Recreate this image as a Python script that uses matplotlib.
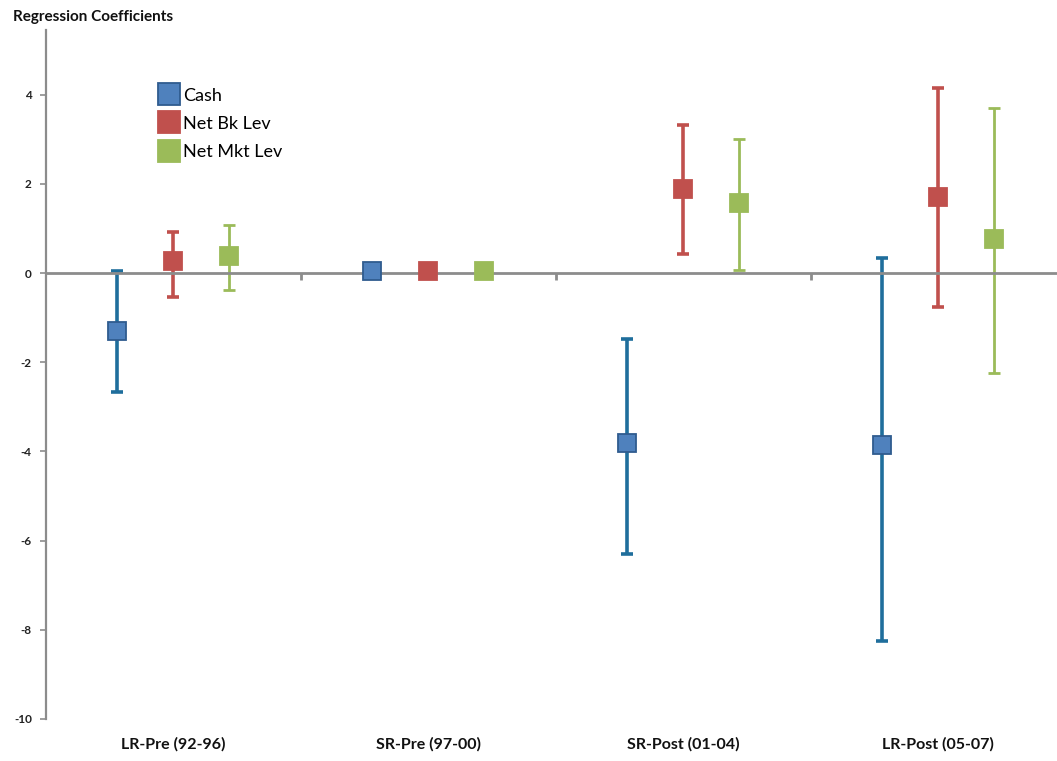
import matplotlib.pyplot as plt
import numpy as np

plt.rcParams["font.family"] = ["Lato", "DejaVu Sans"]

periods = ["LR-Pre (92-96)", "SR-Pre (97-00)", "SR-Post (01-04)", "LR-Post (05-07)"]
series = ["Cash", "Net Bk Lev", "Net Mkt Lev"]

# point estimates and confidence bounds per period
cash = [-1.29, 0.05, -3.82, -3.86]
cash_lo = [-2.66, 0.05, -6.29, -8.24]
cash_hi = [0.05, 0.05, -1.47, 0.33]

bk = [0.26, 0.05, 1.89, 1.70]
bk_lo = [-0.53, 0.05, 0.42, -0.77]
bk_hi = [0.92, 0.05, 3.33, 4.16]

mkt = [0.39, 0.05, 1.56, 0.76]
mkt_lo = [-0.37, 0.05, 0.07, -2.25]
mkt_hi = [1.07, 0.05, 3.01, 3.70]

styles = [
    dict(face="#4F81BD", edge="#2F5C8F", bar="#1F6E9C", lw=2.6),
    dict(face="#C0504D", edge="#C0504D", bar="#C0504D", lw=2.6),
    dict(face="#9BBB59", edge="#9BBB59", bar="#9BBB59", lw=2.0),
]
offsets = [-0.22, 0.0, 0.22]

fig = plt.figure(figsize=(10.57, 7.61), dpi=100)
ax = fig.add_axes([0.0432, 0.0552, 0.965, 0.9054])

x = np.arange(len(periods))
data = [(cash, cash_lo, cash_hi), (bk, bk_lo, bk_hi), (mkt, mkt_lo, mkt_hi)]
for (val, lo, hi), st, off, name in zip(data, styles, offsets, series):
    val = np.array(val)
    yerr = [val - np.array(lo), np.array(hi) - val]
    ax.errorbar(x + off, val, yerr=yerr, fmt="none", ecolor=st["bar"],
                elinewidth=st["lw"], capsize=4, capthick=st["lw"], zorder=2)
    ax.plot(x + off, val, ls="none", marker="s", markersize=12.5,
            markerfacecolor=st["face"], markeredgecolor=st["edge"],
            markeredgewidth=1.3, label=name, zorder=3)

ax.set_xlim(-0.5, len(periods) - 0.5)
ax.set_ylim(-10, 5.45)
ax.set_yticks(np.arange(-10, 5, 2))
ax.set_yticklabels([str(v) for v in range(-10, 5, 2)], fontsize=8.5,
                   fontweight="bold", color="#222222")
ax.tick_params(axis="y", direction="out", length=4, width=1.2,
               color="#8c8c8c", pad=6)

for side in ["top", "right"]:
    ax.spines[side].set_visible(False)
ax.spines["left"].set_color("#8c8c8c")
ax.spines["left"].set_linewidth(1.6)
ax.spines["bottom"].set_position(("data", 0))
ax.spines["bottom"].set_color("#8c8c8c")
ax.spines["bottom"].set_linewidth(2.0)
ax.set_xticks(np.arange(0.5, len(periods) - 0.5, 1.0))
ax.set_xticklabels([])
ax.tick_params(axis="x", direction="out", length=5, width=2.0, color="#8c8c8c")

for xi, lab in zip(x, periods):
    ax.text(xi, -0.037, lab, transform=ax.get_xaxis_transform(), ha="center",
            va="center", fontsize=11.5, fontweight="bold", color="#111111")

fig.text(0.012, 0.978, "Regression Coefficients", fontsize=11,
         fontweight="bold", color="#111111", va="center", ha="left")

leg = ax.legend(loc="upper left", bbox_to_anchor=(0.106, 0.927), frameon=False,
                fontsize=13, handlelength=0.9, handletextpad=0.3,
                labelspacing=0.68, borderaxespad=0, numpoints=1,
                markerscale=1.25)

fig.savefig("out.png", dpi=100, facecolor="white")
